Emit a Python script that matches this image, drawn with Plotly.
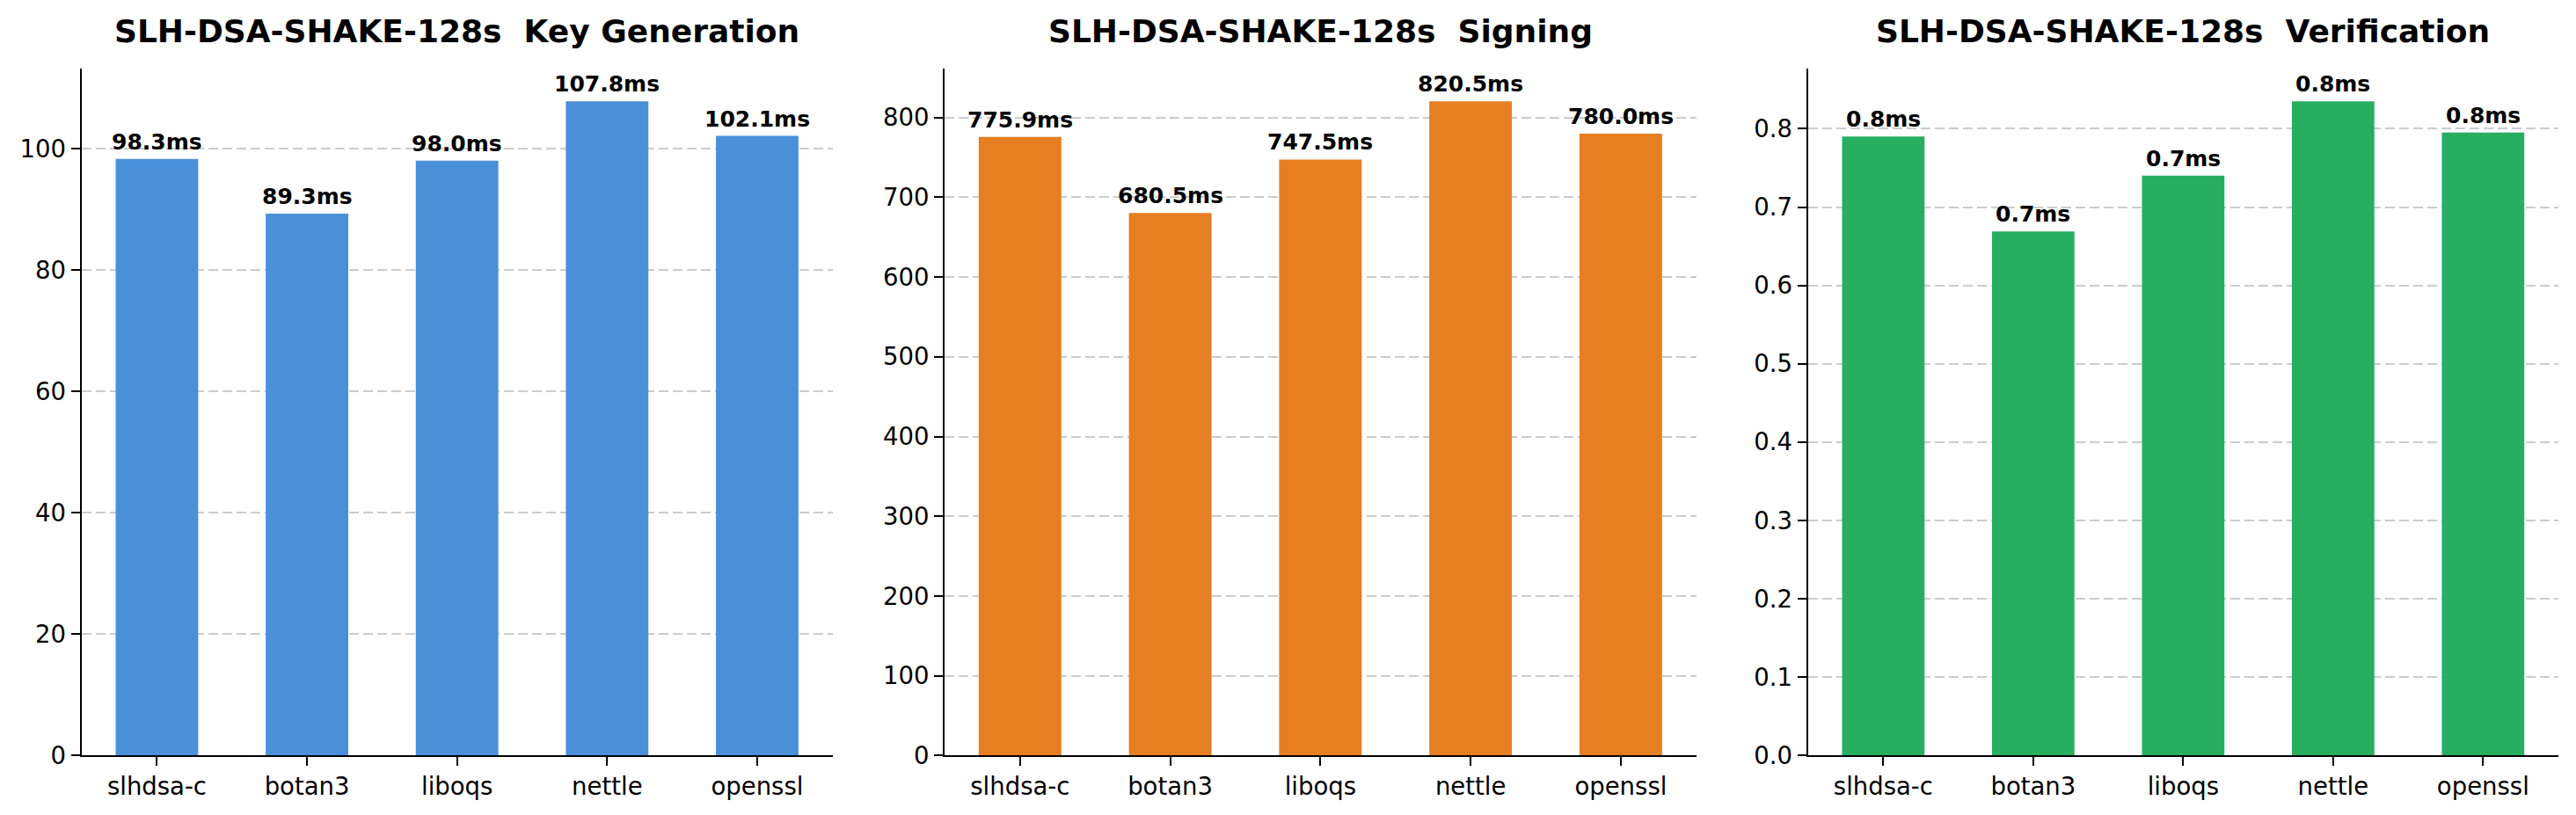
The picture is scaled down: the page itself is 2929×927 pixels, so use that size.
import plotly.graph_objects as go

libraries = ["slhdsa-c", "botan3", "liboqs", "nettle", "openssl"]
keygen_ms = [98.3, 89.3, 98.0, 107.8, 102.1]
signing_ms = [775.9, 680.5, 747.5, 820.5, 780.0]
verify_ms = [0.790, 0.669, 0.740, 0.835, 0.795]

panel_titles = [
    "SLH-DSA-SHAKE-128s  Key Generation",
    "SLH-DSA-SHAKE-128s  Signing",
    "SLH-DSA-SHAKE-128s  Verification",
]
panel_values = [keygen_ms, signing_ms, verify_ms]
panel_colors = ["#4A90D9", "#E67E22", "#27AE60"]
panel_dticks = [20, 100, 0.1]
panel_tickfmt = ["d", "d", ".1f"]

W, H = 2929, 927
x_px = [(92.7, 946.7), (1074.0, 1928.7), (2055.7, 2909.0)]
y_top, y_bot = 78.0, 859.3

FONT = "DejaVu Sans"
BAR_W = 0.55

fig = go.Figure()
layout = dict(
    width=W, height=H,
    margin=dict(l=0, r=0, t=0, b=0, autoexpand=False),
    paper_bgcolor="white", plot_bgcolor="white",
    showlegend=False,
    font=dict(family=FONT, color="black", size=27.5),
)
annotations = []

for i in range(3):
    vals = panel_values[i]
    sfx = "" if i == 0 else str(i + 1)
    xa, ya = "x" + sfx, "y" + sfx
    fig.add_trace(go.Bar(
        x=libraries, y=vals, width=BAR_W,
        marker=dict(color=panel_colors[i], line=dict(width=0)),
        xaxis=xa, yaxis=ya, hoverinfo="skip",
    ))
    vmax = max(vals)
    x0, x1 = x_px[i]
    margin = 0.05 * (len(libraries) - 1 + BAR_W)
    layout["xaxis" + sfx] = dict(
        domain=[x0 / W, x1 / W], anchor=ya, automargin=False,
        type="category", range=[-BAR_W / 2 - margin, len(libraries) - 1 + BAR_W / 2 + margin],
        showline=True, linecolor="black", linewidth=2.2,
        ticks="outside", ticklen=10, tickwidth=2.2, tickcolor="black",
        showgrid=False, zeroline=False,
        tickfont=dict(family=FONT, size=27.5, color="black"),
        fixedrange=True,
    )
    layout["yaxis" + sfx] = dict(
        domain=[1 - y_bot / H, 1 - y_top / H], anchor=xa, automargin=False,
        range=[0, vmax * 1.05],
        dtick=panel_dticks[i], tick0=0, tickformat=panel_tickfmt[i],
        showline=True, linecolor="black", linewidth=2.2,
        ticks="outside", ticklen=10, tickwidth=2.2, tickcolor="black",
        showgrid=True, gridcolor="#cccccc", gridwidth=2, griddash="11px,5px",
        zeroline=False,
        tickfont=dict(family=FONT, size=27.5, color="black"),
        fixedrange=True,
    )
    for lib, v in zip(libraries, vals):
        annotations.append(dict(
            xref=xa, yref=ya, x=lib, y=v, yanchor="bottom", xanchor="center",
            yshift=3, showarrow=False, text=f"<b>{v:.1f}ms</b>",
            font=dict(family=FONT, size=25, color="black"),
        ))
    annotations.append(dict(
        xref="paper", yref="paper", x=(x0 + x1) / 2 / W, y=1 - 58.5 / H,
        xanchor="center", yanchor="bottom", showarrow=False,
        text=f"<b>{panel_titles[i]}</b>",
        font=dict(family=FONT, size=36, color="black"),
    ))

layout["annotations"] = annotations
fig.update_layout(**layout)
fig.write_html("out.html")
